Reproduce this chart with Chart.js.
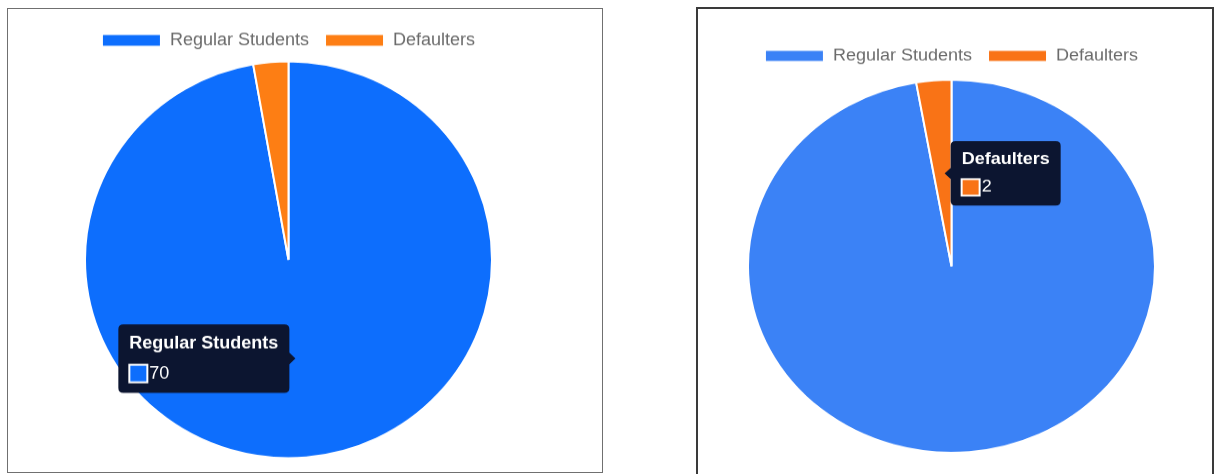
<!DOCTYPE html>
<html>
<head>
<meta charset="utf-8">
<script src="https://cdn.jsdelivr.net/npm/chart.js@4"></script>
<style>
body { margin:0; background:#fff; width:1221px; height:474px; overflow:hidden; position:relative; }
.box { position:absolute; box-sizing:border-box; }
#boxLeft { left:7px; top:8px; width:596px; height:465px; border:1.5px solid #707070; }
#boxRight { left:696px; top:7px; width:518px; height:490px; border:2px solid #3a3a3a; }
canvas { position:absolute; transform-origin:0 0; }
#leftChart { left:84px; top:15.6px; transform:scaleY(0.975); }
#rightChart { left:746.5px; top:33.1px; transform:scaleY(0.9165); }
</style>
</head>
<body>
<div class="box" id="boxLeft"></div>
<div class="box" id="boxRight"></div>
<canvas id="leftChart" width="409" height="456"></canvas>
<canvas id="rightChart" width="409" height="465"></canvas>
<script>
var labels = ['Regular Students', 'Defaulters'];
var leftValues = [70, 2];
var rightValues = [70, 2];
var leftColors = ['#0d6efd', '#fd7e14'];
var rightColors = ['#3b82f6', '#f97316'];

Chart.defaults.font.family = 'Arial, "Liberation Sans", sans-serif';

function makePie(id, values, colors, shownIndex) {
    var ctx = document.getElementById(id).getContext('2d');
    var chart = new Chart(ctx, {
        type: 'pie',
        data: {
            labels: labels,
            datasets: [{
                data: values,
                backgroundColor: colors,
                borderColor: '#fff',
                borderWidth: 2
            }]
        },
        options: {
            responsive: false,
            animation: false,
            events: [],
            plugins: {
                legend: {
                    position: 'top',
                    labels: {
                        color: '#6b6b6b',
                        font: { size: 18 },
                        boxWidth: 59,
                        boxHeight: 13,
                        padding: 16
                    }
                },
                tooltip: {
                    backgroundColor: '#0c1530',
                    titleFont: { size: 18, weight: 'bold' },
                    bodyFont: { size: 18 },
                    padding: { left: 11, right: 11, top: 9, bottom: 9 },
                    titleMarginBottom: 9,
                    caretSize: 6,
                    cornerRadius: 5
                }
            }
        }
    });
    // show the tooltip the way it appears in the screenshot
    chart.tooltip.setActiveElements([{ datasetIndex: 0, index: shownIndex }], { x: 0, y: 0 });
    chart.update();
    return chart;
}

makePie('leftChart', leftValues, leftColors, 0);
makePie('rightChart', rightValues, rightColors, 1);
</script>
</body>
</html>
